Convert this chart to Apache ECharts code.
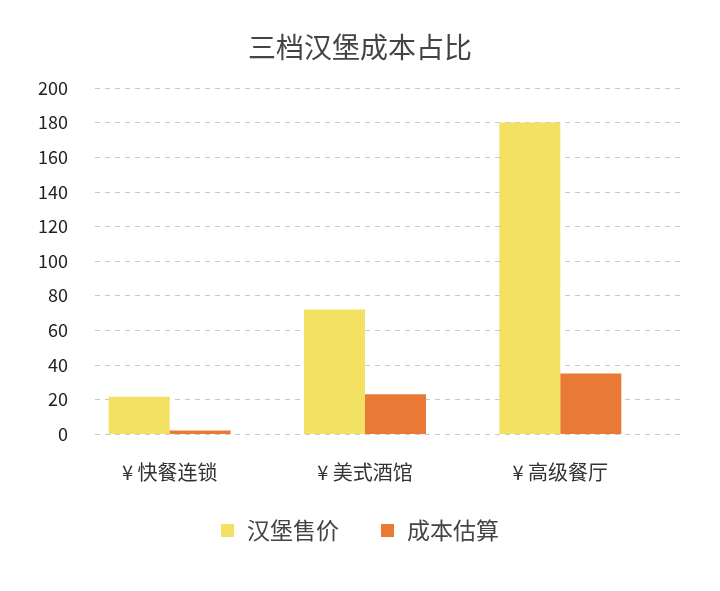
<!DOCTYPE html>
<html><head><meta charset="utf-8">
<script src="https://cdn.jsdelivr.net/npm/echarts@6/dist/echarts.min.js"></script>
<style>html,body{margin:0;padding:0;background:#fff}#c{width:720px;height:591px}</style>
</head><body><div id="c"></div>
<script>
var categories = ['¥ 快餐连锁', '¥ 美式酒馆', '¥ 高级餐厅'];
var priceValues = [21.5, 72, 180];
var costValues = [2, 23, 35];
var seriesNames = ['汉堡售价', '成本估算'];
var yMin = 0, yMax = 200, yInterval = 20;

var font = '"Noto Sans CJK SC", "Noto Sans", sans-serif';
var chart = echarts.init(document.getElementById('c'));
chart.setOption({
  backgroundColor: '#fff',
  animation: false,
  title: {
    text: '三档汉堡成本占比', left: 'center', top: 28,
    textStyle: { fontFamily: font, fontSize: 28, fontWeight: 'normal', color: '#444' }
  },
  legend: {
    bottom: 44, left: 'center', itemWidth: 13, itemHeight: 13, itemGap: 42,
    icon: 'rect',
    textStyle: { fontFamily: font, fontSize: 23, color: '#444', padding: [0, 0, 0, 8] },
    data: seriesNames
  },
  grid: [
    { left: 95, right: 40, top: 88, bottom: 157 },
    { left: 72, right: 62, top: 88, bottom: 157 }
  ],
  xAxis: [
    { gridIndex: 0, type: 'category', data: categories, show: false },
    { gridIndex: 1, type: 'category', data: categories,
      axisLine: { show: false }, axisTick: { show: false },
      axisLabel: { fontFamily: font, fontSize: 20, color: '#333', margin: 28 } }
  ],
  yAxis: [
    { gridIndex: 0, type: 'value', min: yMin, max: yMax, interval: yInterval,
      axisLine: { show: false }, axisTick: { show: false },
      axisLabel: { fontFamily: font, fontSize: 18, color: '#222', margin: 27 },
      splitLine: { lineStyle: { color: '#c8c8c8', type: [5, 5], width: 1 } } },
    { gridIndex: 1, type: 'value', min: yMin, max: yMax, interval: yInterval, show: false,
      splitLine: { show: false } }
  ],
  series: [
    { name: seriesNames[0], type: 'bar', xAxisIndex: 1, yAxisIndex: 1, data: priceValues,
      barWidth: 61, barGap: '0%', itemStyle: { color: '#F3E163' } },
    { name: seriesNames[1], type: 'bar', xAxisIndex: 1, yAxisIndex: 1, data: costValues,
      barWidth: 61, barGap: '0%', itemStyle: { color: '#E97A36' } }
  ]
});
</script></body></html>
